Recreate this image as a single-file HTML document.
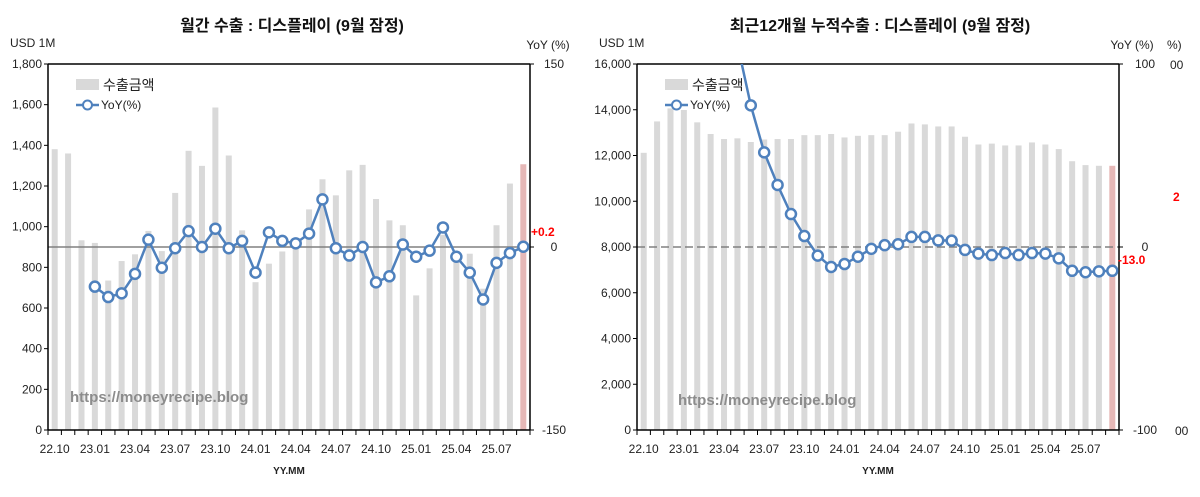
<!DOCTYPE html>
<html><head><meta charset="utf-8">
<style>
html,body{margin:0;padding:0;background:#fff;}
svg{display:block;font-family:"Liberation Sans","Noto Sans CJK KR",sans-serif;}
</style></head>
<body>
<svg id="c" width="1200" height="497" viewBox="0 0 1200 497" xmlns="http://www.w3.org/2000/svg"></svg>
<script>
const categories = ["22.10","22.11","22.12","23.01","23.02","23.03","23.04","23.05","23.06","23.07","23.08","23.09","23.10","23.11","23.12","24.01","24.02","24.03","24.04","24.05","24.06","24.07","24.08","24.09","24.10","24.11","24.12","25.01","25.02","25.03","25.04","25.05","25.06","25.07","25.08","25.09"];
const tickLabels = ["22.10","23.01","23.04","23.07","23.10","24.01","24.04","24.07","24.10","25.01","25.04","25.07"];
const monthlyExports = [1381,1360,933,920,735,831,864,979,880,1166,1373,1299,1586,1350,982,727,818,878,910,1085,1233,1154,1277,1304,1136,1031,1007,662,795,960,870,867,695,1007,1212,1307];
const monthlyYoY = [null,null,null,-32.5,-41,-38,-22,6,-17,-1,13,0,15,-1,5,-21,12,5,3,11,39,-1,-7,0,-29,-24,2,-8,-3,16,-8,-21,-43,-13,-5,0.2];
const cumExports = [12117,13490,14060,13990,13450,12940,12720,12750,12590,12700,12720,12720,12890,12890,12940,12790,12860,12890,12890,13040,13400,13360,13270,13270,12820,12480,12520,12440,12440,12570,12480,12280,11750,11580,11550,11550];
const cumYoY = [null,null,null,200,180,160,140,111,77.4,51.7,33.9,18,6,-4.7,-10.9,-9.3,-5.3,-1,1,1.5,5.5,5.5,3.6,3.5,-1.6,-3.6,-4.4,-3.3,-4.4,-3.3,-3.6,-6.2,-13,-13.8,-13.3,-13.0];
const leftTicks = [0,200,400,600,800,1000,1200,1400,1600,1800];
const rightTicks = [0,2000,4000,6000,8000,10000,12000,14000,16000];

const NS="http://www.w3.org/2000/svg";
const svg=document.getElementById('c');
function mk(tag,attrs,parent,text){const e=document.createElementNS(NS,tag);for(const k in attrs)e.setAttribute(k,attrs[k]);if(text!==undefined)e.textContent=text;(parent||svg).appendChild(e);return e;}

function chart(o){
  const g=mk('g',{});
  
  
  const L=o.x0,R=o.x1,T=64,B=430,n=categories.length,bw=(R-L)/n;
  const xb=i=>L+bw*(i+0.5);
  const yL=v=>B-(v/o.lmax)*(B-T);
  const yR=v=>B-((v-o.rmin)/(o.rmax-o.rmin))*(B-T);
  const t=mk('text',{x:o.tx,y:31,'text-anchor':'middle','font-size':16,'font-weight':'bold',fill:'#111'},g,o.title);
  
  
  mk('text',{x:L-38,y:47,'font-size':12,fill:'#222'},g,'USD 1M');
  mk('text',{x:R+o.yoyOff,y:49,'text-anchor':'middle','font-size':12,fill:'#222'},g,'YoY (%)');
  o.bars.forEach((v,i)=>{
    const r=mk('rect',{x:xb(i)-3,y:yL(v),width:6,height:B-yL(v),fill:i===n-1?'#e6b8b7':'#d9d9d9'},g);
    
    
  });
  mk('line',{x1:L,x2:R,y1:yR(0),y2:yR(0),stroke:'#808080','stroke-width':1.5,'stroke-dasharray':o.dash},g);
  mk('line',{x1:L,x2:L,y1:T,y2:B,stroke:'#000','stroke-width':1.5},g);
  mk('line',{x1:R,x2:R,y1:T,y2:B,stroke:'#000','stroke-width':1.5},g);
  mk('line',{x1:L,x2:R,y1:T,y2:T,stroke:'#000','stroke-width':1.5},g);
  mk('line',{x1:L,x2:R,y1:B,y2:B,stroke:'#000','stroke-width':1.5},g);
  o.lticks.forEach(v=>{
    mk('line',{x1:L-4,x2:L,y1:yL(v),y2:yL(v),stroke:'#000'},g);
    const tt=mk('text',{x:L-6,y:yL(v)+4,'text-anchor':'end','font-size':12,fill:'#222'},g,v.toLocaleString('en-US'));
    
    
  });
  [o.rmin,0,o.rmax].forEach(v=>{
    mk('line',{x1:R,x2:R+4,y1:yR(v),y2:yR(v),stroke:'#000'},g);
    mk('text',{x:R+o.rOff,y:yR(v)+4,'text-anchor':'middle','font-size':12,fill:'#222'},g,String(v));
  });
  for(let i=0;i<=n;i++)mk('line',{x1:L+bw*i,x2:L+bw*i,y1:B,y2:B+5,stroke:'#000'},g);
  categories.forEach((c,i)=>{
    if(tickLabels.indexOf(c)>=0){
      const tl=mk('text',{x:xb(i),y:453,'text-anchor':'middle','font-size':12,fill:'#222'},g,c);
      
      
    }
  });
  mk('text',{x:(L+R)/2,y:474,'text-anchor':'middle','font-size':10,'font-weight':'bold',fill:'#222'},g,'YY.MM');
  const cp=mk('clipPath',{id:'cp'+o.id},g);
  mk('rect',{x:L-8,y:T,width:R-L+16,height:B-T},cp);
  const lg=mk('g',{'clip-path':'url(#cp'+o.id+')'},g);
  let d='';
  o.yoy.forEach((v,i)=>{if(v===null)return;d+=(d?'L':'M')+xb(i).toFixed(1)+' '+yR(v).toFixed(1);});
  const p=mk('path',{d:d,fill:'none',stroke:'#4f81bd','stroke-width':2.5},lg);
  
  
  o.yoy.forEach((v,i)=>{
    if(v===null)return;
    const c=mk('circle',{cx:xb(i),cy:yR(v),r:5,fill:'#fff',stroke:'#4f81bd','stroke-width':2.5},lg);
    
    
  });
  const lgd=mk('g',{},g);
  
  
  mk('rect',{x:L+28,y:79,width:23,height:11,fill:'#d9d9d9'},lgd);
  mk('text',{x:L+55,y:90,'font-size':14,fill:'#222'},lgd,'수출금액');
  mk('line',{x1:L+28,x2:L+51,y1:105,y2:105,stroke:'#4f81bd','stroke-width':2.5},lgd);
  mk('circle',{cx:L+39.5,cy:105,r:4.5,fill:'#fff',stroke:'#4f81bd','stroke-width':2},lgd);
  mk('text',{x:L+53,y:109,'font-size':12,fill:'#222'},lgd,'YoY(%)');
  const w=mk('text',{x:o.wx,y:o.wy,'font-size':15,'font-weight':'bold',fill:'#8c8c8c'},g,'https://moneyrecipe.blog');
  
  
  const lv=mk('text',{x:o.lvx,y:o.lvy,'font-size':12,'font-weight':'bold',fill:'#ff0000'},g,o.lvText);
  
  
  return g;
}

chart({id:'monthly-chart',x0:48,x1:530,title:'월간 수출 : 디스플레이 (9월 잠정)',tx:292,bars:monthlyExports,yoy:monthlyYoY,lmax:1800,lticks:leftTicks,rmin:-150,rmax:150,rOff:24,yoyOff:18,dash:'none',wx:70,wy:402,lvx:531,lvy:236,lvText:'+0.2'});
chart({id:'cumulative-chart',x0:637,x1:1119,title:'최근12개월 누적수출 : 디스플레이 (9월 잠정)',tx:880,bars:cumExports,yoy:cumYoY,lmax:16000,lticks:rightTicks,rmin:-100,rmax:100,rOff:26,yoyOff:13,dash:'8,4',wx:678,wy:405,lvx:1118,lvy:264,lvText:'-13.0'});
mk('text',{x:1167,y:49,'font-size':12,fill:'#222'},svg,'%)');
mk('text',{x:1170,y:69,'font-size':12,fill:'#222'},svg,'00');
mk('text',{x:1175,y:435,'font-size':12,fill:'#222'},svg,'00');
mk('text',{x:1173,y:201,'font-size':12,'font-weight':'bold',fill:'#ff0000'},svg,'2');
</script>
</body></html>
